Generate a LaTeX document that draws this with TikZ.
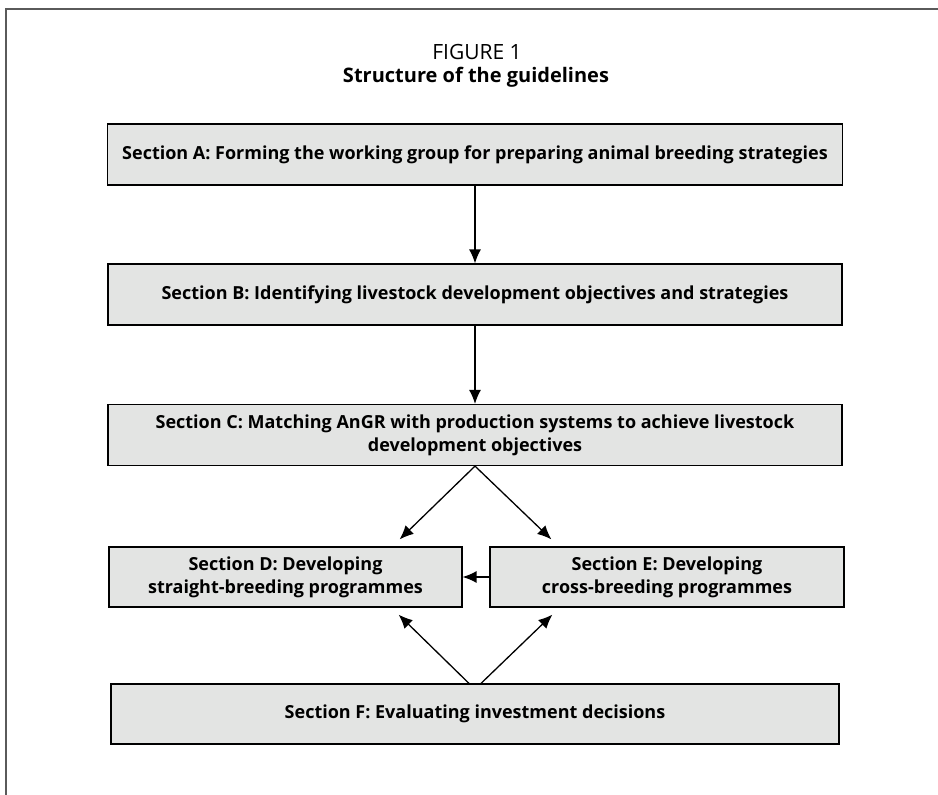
\documentclass[tikz,border=0pt]{standalone}
\usepackage{fontspec}
\setmainfont{Open Sans}
\usetikzlibrary{arrows.meta,calc}
\definecolor{boxfill}{HTML}{E3E4E3}
\definecolor{frameline}{HTML}{5A5A5A}
\tikzset{
  secbox/.style={fill=boxfill, draw=black, line width=1.2pt, inner sep=0pt,
    align=center, font=\fontsize{18}{23}\selectfont\bfseries},
  flow/.style={line width=1.3pt, -{Latex[length=14pt,width=12pt]}},
}
\begin{document}
\begin{tikzpicture}[x=1pt,y=-1pt]
  \useasboundingbox (0,0) rectangle (938,795);
  % page frame (top and left rules)
  \draw[frameline, line width=2pt] (6,795) -- (6,8.5) -- (938,8.5);

  % caption
  \node (fig) at (477,52) {\fontsize{21}{24}\selectfont FIGURE 1};
  \node (title) at (476,77) {\fontsize{20}{24}\selectfont\bfseries Structure of the guidelines};

  % section boxes
  \node[secbox, minimum width=735pt, minimum height=61pt] (A) at (475,154.5)
    {Section A: Forming the working group for preparing animal breeding strategies};
  \node[secbox, minimum width=734pt, minimum height=61pt] (B) at (475,294.5)
    {Section B: Identifying livestock development objectives and strategies};
  \node[secbox, minimum width=734pt, minimum height=61pt] (C) at (475,435)
    {Section C: Matching AnGR with production systems to achieve livestock\\development objectives};
  \node[secbox, minimum width=353pt, minimum height=60pt] (D) at (285.5,577)
    {Section D: Developing\\straight-breeding programmes};
  \node[secbox, minimum width=354pt, minimum height=60pt] (E) at (667,577)
    {Section E: Developing\\cross-breeding programmes};
  \node[secbox, minimum width=728pt, minimum height=60pt] (F) at (475,714)
    {Section F: Evaluating investment decisions};

  % connectors
  \draw[flow] (A.south) -- (B.north);
  \draw[flow] (B.south) -- (C.north);
  \draw[flow] (C.south) -- ($(D.north east)+(-63,-7)$);
  \draw[flow] (C.south) -- ($(E.north west)+(62,-7)$);
  \draw[flow] (E.west) -- (D.east);
  \draw[flow] ($(F.north)+(-6,0)$) -- ($(D.south east)+(-64,7)$);
  \draw[flow] ($(F.north)+(6,0)$) -- ($(E.south west)+(63,7)$);
\end{tikzpicture}
\end{document}
